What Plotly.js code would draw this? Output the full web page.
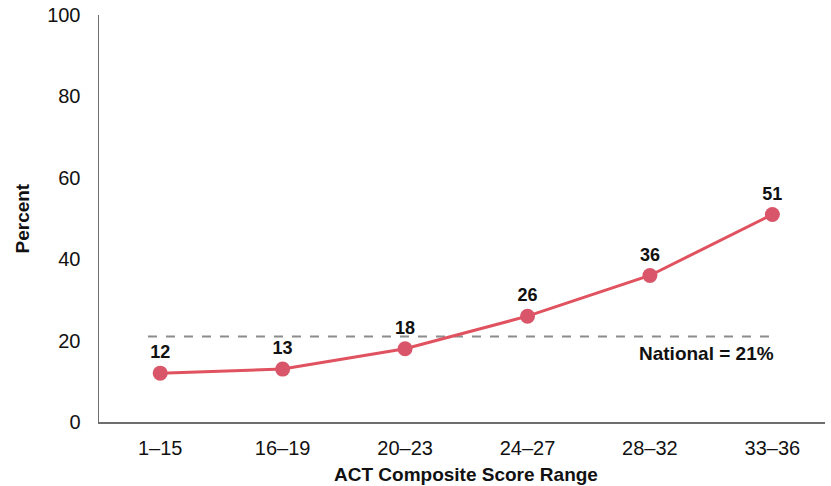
<!DOCTYPE html>
<html><head><meta charset="utf-8">
<script src="https://cdn.plot.ly/plotly-3.0.1.min.js"></script>
<style>html,body{margin:0;padding:0;background:#fff}</style>
</head><body><div id="chart" style="width:831px;height:486px"></div>
<script>
const categories = ["1–15","16–19","20–23","24–27","28–32","33–36"];
const percents = [12, 13, 18, 26, 36, 51];
const nationalValue = 21;
const nationalLabel = "National = 21%";
const yTicks = [0, 20, 40, 60, 80, 100];

const F = "Liberation Sans, Arial, Helvetica, sans-serif";
const idx = categories.map((c,i)=>i);

const trace = {
  x: idx, y: percents, type: "scatter", mode: "lines+markers+text",
  text: percents.map(String), textposition: "top center",
  textfont: {family: F, size: 18, color: "#111", weight: "bold"},
  line: {color: "#e0525f", width: 3},
  marker: {color: "#d9566a", size: 15},
  cliponaxis: false, hoverinfo: "skip"
};

const layout = {
  width: 831, height: 486,
  margin: {l: 99, r: 6, t: 15, b: 64},
  paper_bgcolor: "#fff", plot_bgcolor: "#fff",
  showlegend: false,
  font: {family: F, color: "#111"},
  xaxis: {
    range: [-0.5, 5.43], tickmode: "array", tickvals: idx, ticktext: categories,
    showgrid: false, zeroline: false, showline: true, linecolor: "#6e6e6e", linewidth: 1.5,
    ticks: "outside", ticklen: 7, tickcolor: "rgba(0,0,0,0)",
    tickfont: {family: F, size: 20, color: "#111"}
  },
  yaxis: {
    range: [0, 100], tickvals: yTicks, showgrid: false, zeroline: false,
    showline: true, linecolor: "#6e6e6e", linewidth: 1.5,
    ticks: "outside", ticklen: 13, tickcolor: "rgba(0,0,0,0)",
    tickfont: {family: F, size: 20, color: "#111"}
  },
  shapes: [{
    type: "line", xref: "x", yref: "y", x0: -0.1, x1: 5.03, y0: nationalValue, y1: nationalValue,
    line: {color: "#8c8c8c", width: 2, dash: "dash"}, layer: "below"
  }],
  annotations: [
    {text: "<b>" + nationalLabel + "</b>", xref: "x", yref: "y", x: 5.03, y: nationalValue,
     xanchor: "right", yanchor: "top", yshift: -4, showarrow: false,
     font: {family: F, size: 19, color: "#111"}},
    {text: "<b>ACT Composite Score Range</b>", xref: "paper", yref: "paper", x: 0.5, y: 0,
     xanchor: "center", yanchor: "middle", yshift: -52, xshift: 4, showarrow: false,
     font: {family: F, size: 19, color: "#111"}},
    {text: "<b>Percent</b>", xref: "paper", yref: "paper", x: 0, y: 0.5, textangle: -90,
     xanchor: "center", yanchor: "middle", xshift: -77, showarrow: false,
     font: {family: F, size: 19, color: "#111"}}
  ]
};

Plotly.newPlot("chart", [trace], layout, {displayModeBar: false, staticPlot: true});
</script></body></html>
